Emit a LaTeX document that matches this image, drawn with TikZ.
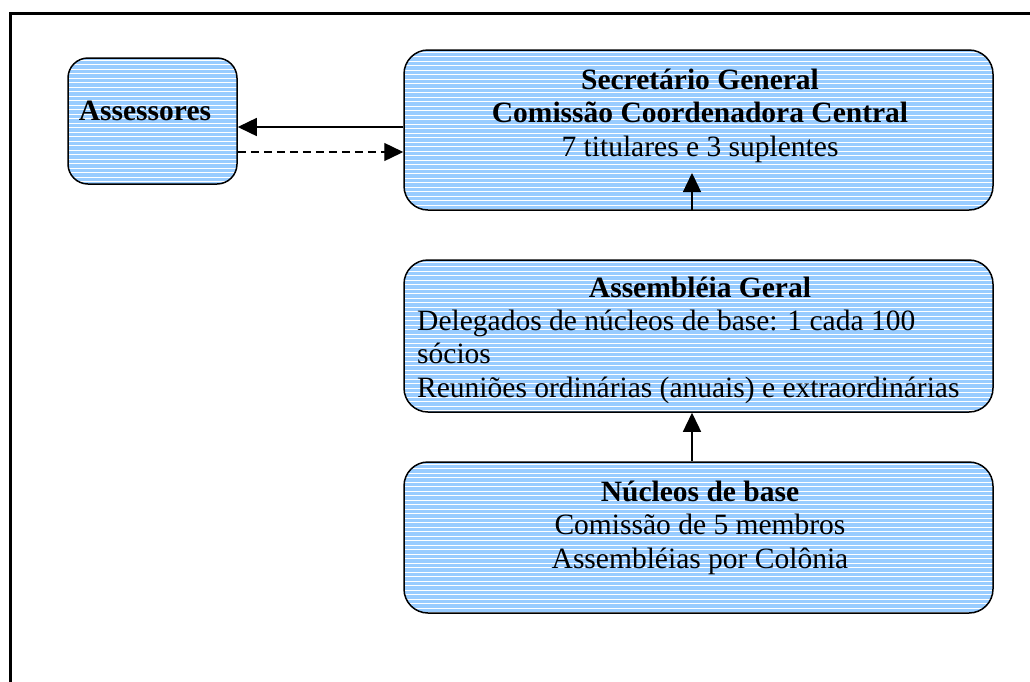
\documentclass[tikz,border=0pt]{standalone}
\usepackage{fontspec}
\setmainfont{Liberation Serif}
\usetikzlibrary{arrows.meta}
\definecolor{boxblue}{RGB}{153,204,255}
\tikzset{
  x=1pt, y=-1pt,
  stripebox/.style={draw=black, line width=1.5pt, fill=boxblue, inner sep=0pt,
    path picture={
      \foreach \k in {0,...,40}
        \draw[white, line width=0.9pt]
          ([yshift=-\k*4.5pt-2pt, xshift=-2pt]path picture bounding box.north west) --
          ([yshift=-\k*4.5pt-2pt, xshift=2pt]path picture bounding box.north east);
    }},
  txt/.style={inner sep=0pt, anchor=base, font=\fontsize{29.5}{33.5}\selectfont},
  btxt/.style={txt, font=\fontsize{29.5}{33.5}\selectfont\bfseries},
  ltxt/.style={txt, anchor=base west},
  conn/.style={line width=1.4pt, -{Triangle[length=19pt,width=18pt]}},
}
\begin{document}
\begin{tikzpicture}
\useasboundingbox (0,0) rectangle (1030,681);
\clip (0,0) rectangle (1030,681);
\draw[line width=3.5pt] (10.3,900) -- (10.3,13.3) -- (1100,13.3);

% boxes
\node[stripebox, rounded corners=20pt, minimum width=169pt, minimum height=126pt] (ass) at (152.5,121) {};
\node[stripebox, rounded corners=24pt, minimum width=589pt, minimum height=160pt] (sec) at (698.5,130) {};
\node[stripebox, rounded corners=24pt, minimum width=589pt, minimum height=152pt] (ag) at (698.5,336) {};
\node[stripebox, rounded corners=24pt, minimum width=589pt, minimum height=151pt] (nb) at (698.5,537.5) {};

% texts
\node[btxt] (t1) at (145,120) {Assessores};
\node[btxt] (t2) at (700,89) {Secretário General};
\node[btxt] (t3) at (700,122.5) {Comissão Coordenadora Central};
\node[txt] (t4) at (700,156) {7 titulares e 3 suplentes};
\node[btxt] (t5) at (700,297) {Assembléia Geral};
\node[ltxt] (t6) at (417,330) {Delegados de núcleos de base: 1 cada 100};
\node[ltxt] (t7) at (417,363.5) {sócios};
\node[ltxt] (t8) at (417,397) {Reuniões ordinárias (anuais) e extraordinárias};
\node[btxt] (t9) at (700,501) {Núcleos de base};
\node[txt] (t10) at (700,534.5) {Comissão de 5 membros};
\node[txt] (t11) at (700,568) {Assembléias por Colônia};

% connectors
\draw[conn] (sec.west |- 0,127) -- (ass.east |- 0,127);
\draw[conn, dash pattern=on 8pt off 5pt] (ass.east |- 0,152) -- (sec.west |- 0,152);
\coordinate (up) at (692,173);
\draw[conn] (sec.south -| up) -- (up);
\draw[conn] (nb.north -| up) -- (ag.south -| up);
\end{tikzpicture}
\end{document}
